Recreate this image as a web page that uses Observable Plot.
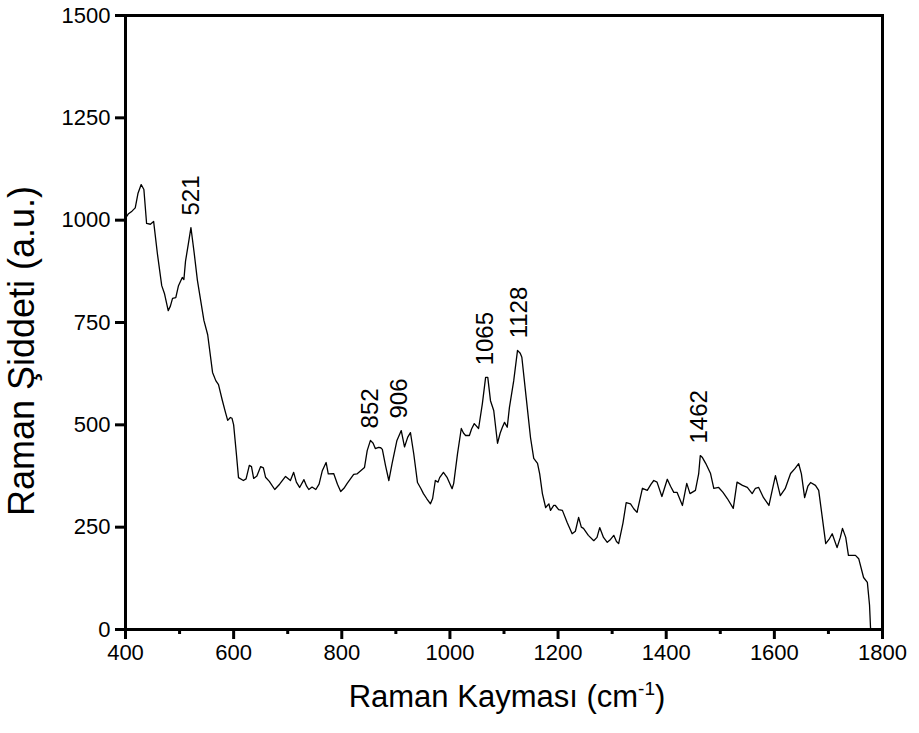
<!DOCTYPE html>
<html>
<head>
<meta charset="utf-8">
<script src="https://cdn.jsdelivr.net/npm/d3@7"></script>
<script src="https://cdn.jsdelivr.net/npm/@observablehq/plot@0.6"></script>
<style>
  html, body { margin: 0; padding: 0; background: #fff; }
  #chart svg { display: block; }
</style>
</head>
<body>
<div id="chart"></div>
<script>
// Raman spectrum: wavenumber (cm^-1) and intensity (a.u.)
const wavenumber = [
  400, 405, 412, 418, 423, 429, 434, 439, 446, 452, 459, 467, 472, 479, 483, 487, 493, 498, 505, 508,
  511, 516, 521, 527, 533, 545, 552, 561, 567, 572, 579, 585, 589, 594, 597, 600, 605, 609, 618, 623,
  629, 633, 637, 643, 650, 655, 659, 666, 676, 685, 696, 705, 711, 716, 722, 730, 735, 739, 745, 752,
  758, 764, 771, 775, 785, 792, 798, 804, 810, 816, 822, 828, 835, 842, 847, 853, 858, 862, 868, 872,
  875, 881, 887, 893, 902, 910, 916, 922, 927, 933, 940, 946, 951, 957, 964, 968, 973, 978, 981, 988,
  995, 1004, 1007, 1014, 1021, 1025, 1029, 1036, 1040, 1045, 1053, 1060, 1066, 1070, 1075, 1081, 1088, 1093, 1097, 1101,
  1106, 1110, 1118, 1125, 1130, 1133, 1141, 1149, 1155, 1162, 1166, 1171, 1177, 1183, 1186, 1192, 1195, 1201, 1208, 1217,
  1226, 1232, 1238, 1243, 1247, 1256, 1266, 1272, 1277, 1284, 1291, 1297, 1303, 1308, 1312, 1320, 1326, 1334, 1340, 1346,
  1356, 1365, 1372, 1377, 1383, 1392, 1402, 1408, 1414, 1420, 1430, 1438, 1444, 1454, 1460, 1463, 1467, 1473, 1482, 1488,
  1497, 1505, 1513, 1524, 1531, 1541, 1550, 1559, 1565, 1571, 1580, 1590, 1596, 1602, 1611, 1620, 1630, 1638, 1645, 1650,
  1656, 1662, 1667, 1676, 1682, 1688, 1695, 1701, 1707, 1716, 1722, 1726, 1732, 1737, 1750, 1756, 1765, 1772, 1776, 1778
];
const intensity = [
  1005, 1015, 1022, 1030, 1065, 1087, 1075, 992, 990, 997, 918, 840, 821, 779, 790, 809, 811, 840, 860, 855,
  900, 940, 982, 920, 853, 755, 720, 628, 608, 598, 560, 530, 511, 518, 516, 500, 430, 371, 364, 368,
  401, 398, 369, 375, 398, 395, 372, 362, 342, 355, 374, 364, 384, 360, 347, 366, 350, 342, 348, 342,
  355, 388, 408, 380, 381, 355, 337, 345, 357, 368, 379, 380, 388, 396, 437, 462, 455, 442, 445, 444,
  440, 400, 364, 405, 462, 486, 446, 470, 481, 430, 359, 345, 332, 320, 307, 320, 364, 360, 371, 384,
  371, 344, 357, 429, 491, 480, 474, 474, 490, 503, 491, 552, 616, 616, 559, 535, 455, 480, 494, 506,
  494, 542, 608, 682, 675, 665, 567, 469, 418, 406, 380, 332, 298, 307, 291, 303, 303, 293, 291, 261,
  234, 240, 274, 250, 247, 230, 217, 225, 249, 225, 213, 220, 230, 215, 210, 260, 310, 307, 295, 286,
  345, 340, 355, 364, 360, 325, 367, 350, 335, 335, 303, 357, 332, 340, 380, 425, 420, 406, 381, 345,
  347, 335, 320, 296, 360, 352, 347, 332, 345, 347, 322, 303, 340, 376, 327, 344, 381, 393, 405, 380,
  322, 350, 359, 352, 340, 280, 210, 220, 234, 200, 225, 247, 225, 181, 181, 173, 127, 115, 60, 0
];

// Annotated peak positions (cm^-1)
const peakLabels = [521, 852, 906, 1065, 1128, 1462];

// Axis ticks
const xTicks = [400, 600, 800, 1000, 1200, 1400, 1600, 1800];
const xMinorTicks = [500, 700, 900, 1100, 1300, 1500, 1700];
const yTicks = [0, 250, 500, 750, 1000, 1250, 1500];

const spectrum = wavenumber.map((w, i) => ({w, v: intensity[i]}));

// Label height: local maximum of the spectrum around each labelled peak
const peaks = peakLabels.map(p => {
  const near = spectrum.filter(d => Math.abs(d.w - p) <= 12);
  return {w: p, v: d3.max(near, d => d.v), label: String(p)};
});

const font = "'Liberation Sans', Arial, Helvetica, sans-serif";
const plain = d => String(d);

const chart = Plot.plot({
  width: 919,
  height: 733,
  marginLeft: 125,
  marginRight: 37,
  marginTop: 15,
  marginBottom: 104,
  style: {fontFamily: font, fontSize: "22px", color: "#000", background: "#fff", overflow: "visible"},
  x: {domain: [400, 1800]},
  y: {domain: [0, 1500]},
  marks: [
    Plot.axisX({ticks: xMinorTicks, tickSize: 5, tickFormat: () => "", strokeWidth: 3, label: null}),
    Plot.axisX({ticks: xTicks, tickSize: 10, tickPadding: 5, tickFormat: plain, strokeWidth: 3, label: null, fontSize: 22}),
    Plot.axisY({ticks: yTicks, tickSize: 10, tickPadding: 5, tickFormat: plain, strokeWidth: 3, label: null, fontSize: 22}),
    Plot.frame({stroke: "#000", strokeWidth: 3}),
    Plot.line(spectrum, {x: "w", y: "v", stroke: "#000", strokeWidth: 1.3}),
    Plot.text(peaks, {
      x: "w", y: "v", text: "label", rotate: -90,
      textAnchor: "start", dy: -12, fontSize: 24, fill: "#000"
    })
  ]
});

// Axis titles (with superscript for cm^-1)
const svg = d3.select(chart);
const xt = svg.append("text")
  .attr("x", 507).attr("y", 707)
  .attr("text-anchor", "middle")
  .style("font-family", font).style("font-size", "31px").attr("fill", "#000");
xt.append("tspan").text("Raman Kayması (cm");
xt.append("tspan").attr("dy", -12).style("font-size", "19px").text("-1");
xt.append("tspan").attr("dy", 12).text(")");

svg.append("text")
  .attr("transform", "translate(34,351) rotate(-90)")
  .attr("text-anchor", "middle")
  .style("font-family", font).style("font-size", "36px").attr("fill", "#000")
  .text("Raman Şiddeti (a.u.)");

document.getElementById("chart").appendChild(chart);
</script>
</body>
</html>
